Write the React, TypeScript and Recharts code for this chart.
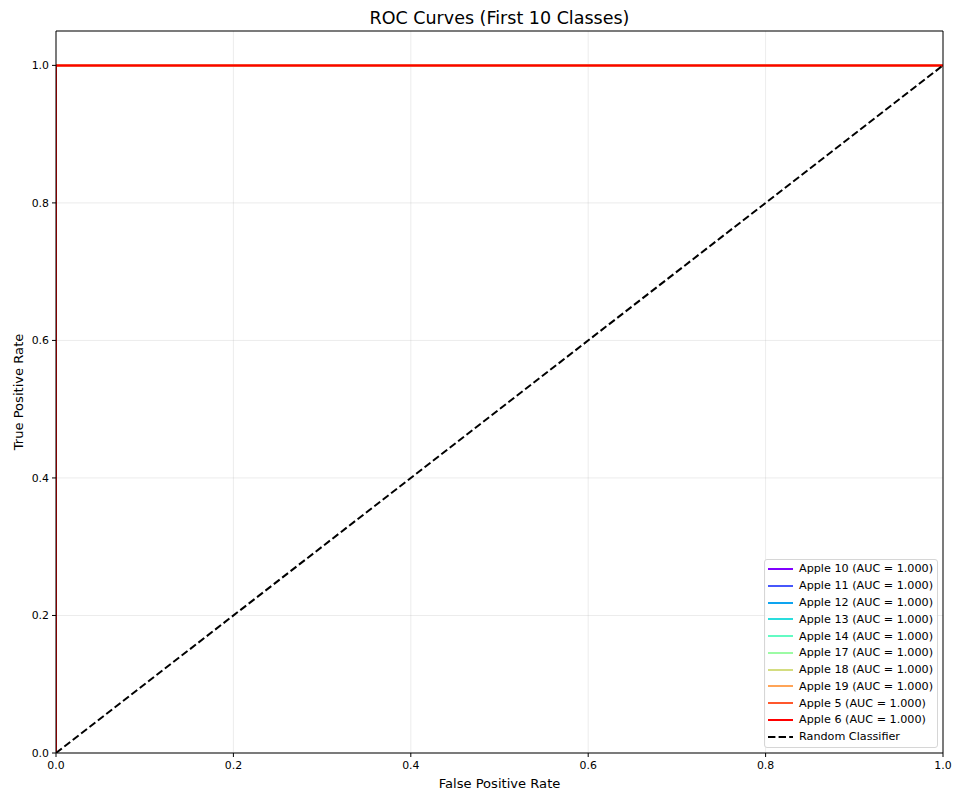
import { LineChart, Line, XAxis, YAxis, CartesianGrid, Legend } from 'recharts';

const CLASS_NAMES = ['Apple 10', 'Apple 11', 'Apple 12', 'Apple 13', 'Apple 14', 'Apple 17', 'Apple 18', 'Apple 19', 'Apple 5', 'Apple 6'];
const AUC_VALUES = [1.0, 1.0, 1.0, 1.0, 1.0, 1.0, 1.0, 1.0, 1.0, 1.0];
// rainbow colormap sampled at 10 points
const COLORS = ['#8000ff', '#4757fb', '#0ea4f0', '#2adddd', '#63fbc3', '#9cfba4', '#d4dd80', '#ffa457', '#ff572c', '#ff0000'];

// every class has a perfect ROC curve
const ROC_FPR = [0, 0, 1];
const ROC_TPR = [0, 1, 1];

const DIAG_FPR = [0, 1];
const DIAG_TPR = [0, 1];

const TICKS = [0, 0.2, 0.4, 0.6, 0.8, 1.0];

const FONT = '"DejaVu Sans", Verdana, sans-serif';
const W = 954;
const H = 794;

const rocData = ROC_FPR.map((x, i) => ({ x, y: ROC_TPR[i] }));
const diagData = DIAG_FPR.map((x, i) => ({ x, y: DIAG_TPR[i] }));

const legendItems = [
    ...CLASS_NAMES.map((name, i) => ({ label: `${name} (AUC = ${AUC_VALUES[i].toFixed(3)})`, color: COLORS[i], dashed: false })),
    { label: 'Random Classifier', color: '#000000', dashed: true },
];

const LegendBox = () => (
    <div
        style={{
            boxSizing: 'border-box',
            width: 174,
            height: 189,
            border: '1px solid #d6d6d6',
            borderRadius: 3,
            background: 'rgba(255,255,255,0.8)',
            paddingTop: 0.6,
            fontFamily: FONT,
            fontSize: 11.2,
            color: '#000',
        }}
    >
        {legendItems.map((item) => (
            <div key={item.label} style={{ height: 16.77, display: 'flex', alignItems: 'center', whiteSpace: 'nowrap' }}>
                <svg width={32} height={8} style={{ marginLeft: 2, flex: 'none' }}>
                    <line
                        x1={1}
                        x2={26}
                        y1={4}
                        y2={4}
                        stroke={item.color}
                        strokeWidth={2}
                        strokeDasharray={item.dashed ? '7.4 3.2' : undefined}
                    />
                </svg>
                <span>{item.label}</span>
            </div>
        ))}
    </div>
);

export default function App() {
    return (
        <div style={{ position: 'absolute', left: 0, top: 0, width: W, height: H, background: '#fff' }}>
            <div
                style={{
                    position: 'absolute',
                    left: 56,
                    width: 887,
                    top: 7,
                    textAlign: 'center',
                    fontFamily: FONT,
                    fontSize: 17.5,
                    lineHeight: '22px',
                    color: '#000',
                }}
            >
                ROC Curves (First 10 Classes)
            </div>
            <LineChart width={W} height={H} margin={{ top: 30, right: 10, left: 0, bottom: 0 }}>
                <CartesianGrid stroke="#b0b0b0" strokeOpacity={0.3} strokeWidth={0.8} />
                <XAxis
                    dataKey="x"
                    type="number"
                    domain={[0, 1]}
                    ticks={TICKS}
                    allowDataOverflow
                    tickFormatter={(v: number) => v.toFixed(1)}
                    height={41}
                    tickSize={4}
                    tickMargin={4}
                    stroke="#000"
                    tick={{ fill: '#000', fontSize: 10.9, fontFamily: FONT }}
                    label={{
                        content: ({ viewBox }: any) => (
                            <text x={viewBox.x + viewBox.width / 2} y={viewBox.y + 35} textAnchor="middle" fontSize={13.1} fontFamily={FONT} fill="#000">
                                False Positive Rate
                            </text>
                        ),
                    }}
                />
                <XAxis
                    xAxisId="top"
                    orientation="top"
                    dataKey="x"
                    type="number"
                    domain={[0, 1]}
                    height={1}
                    tick={false}
                    tickLine={false}
                    stroke="#000"
                />
                <YAxis
                    type="number"
                    domain={[0, 1.05]}
                    ticks={TICKS}
                    allowDataOverflow
                    tickFormatter={(v: number) => v.toFixed(1)}
                    width={56}
                    tickSize={4}
                    tickMargin={3}
                    stroke="#000"
                    tick={{ fill: '#000', fontSize: 10.9, fontFamily: FONT }}
                    label={{
                        content: ({ viewBox }: any) => {
                            const cx = 23;
                            const cy = viewBox.y + viewBox.height / 2;
                            return (
                                <text x={cx} y={cy} transform={`rotate(-90 ${cx} ${cy})`} textAnchor="middle" fontSize={13.1} fontFamily={FONT} fill="#000">
                                    True Positive Rate
                                </text>
                            );
                        },
                    }}
                />
                <YAxis yAxisId="right" orientation="right" type="number" domain={[0, 1.05]} width={1} tick={false} tickLine={false} stroke="#000" />
                {CLASS_NAMES.map((name, i) => (
                    <Line
                        key={name}
                        data={rocData}
                        dataKey="y"
                        name={name}
                        type="linear"
                        stroke={COLORS[i]}
                        strokeWidth={2}
                        dot={false}
                        activeDot={false}
                        isAnimationActive={false}
                    />
                ))}
                <Line
                    data={diagData}
                    dataKey="y"
                    name="Random Classifier"
                    type="linear"
                    stroke="#000"
                    strokeWidth={2}
                    strokeDasharray="7.4 3.2"
                    dot={false}
                    activeDot={false}
                    isAnimationActive={false}
                />
                <Legend
                    layout="vertical"
                    align="center"
                    verticalAlign="middle"
                    content={() => <LegendBox />}
                    wrapperStyle={{ position: 'absolute', left: 764, top: 559, width: 174, height: 189 }}
                />
            </LineChart>
        </div>
    );
}
